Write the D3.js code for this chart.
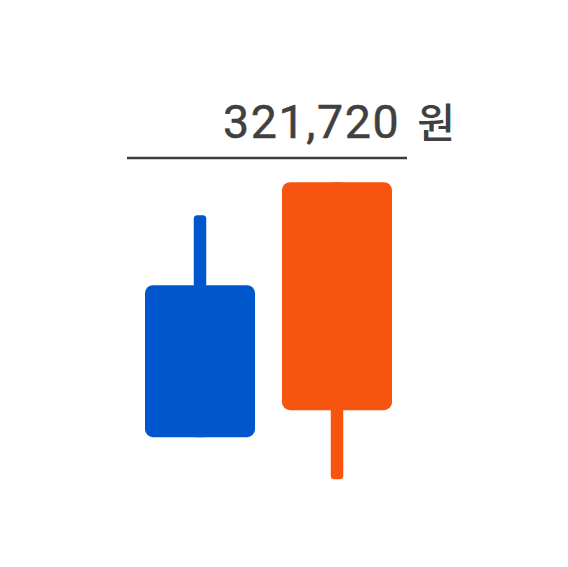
<!DOCTYPE html>
<html>
<head>
<meta charset="utf-8">
<script src="https://cdn.jsdelivr.net/npm/d3@7"></script>
<style>
html,body{margin:0;padding:0;background:#fff;}
svg{display:block;}
</style>
</head>
<body>
<svg id="chart" width="568" height="567"></svg>
<script>
// Data
const categories = ["전일", "당일"];
const opens  = [309000, 296500];
const closes = [293800, 319300];
const highs  = [316000, 319300];
const lows   = [293800, 289600];
const refPrice = 321720;
const refUnit = "원";
const colors = ["#0057cd", "#f75410"];

const svg = d3.select("#chart");
const y = d3.scaleLinear().domain([280000, 330000]).range([575.2, 75.2]);
const x = d3.scaleBand().domain(categories).range([145, 392]).paddingInner(0.197).paddingOuter(0);

const data = categories.map((c, i) => ({c, o: opens[i], cl: closes[i], h: highs[i], l: lows[i], col: colors[i]}));

const wickW = 12.5;
// wicks
svg.selectAll("rect.wick").data(data).enter().append("rect")
  .attr("class", "wick")
  .attr("x", d => x(d.c) + x.bandwidth() / 2 - wickW / 2)
  .attr("width", wickW)
  .attr("y", d => y(d.h))
  .attr("height", d => y(d.l) - y(d.h))
  .attr("rx", 3.5)
  .attr("fill", d => d.col);

// bodies
svg.selectAll("rect.body").data(data).enter().append("rect")
  .attr("class", "body")
  .attr("x", d => x(d.c))
  .attr("width", x.bandwidth())
  .attr("y", d => y(Math.max(d.o, d.cl)))
  .attr("height", d => Math.abs(y(d.o) - y(d.cl)))
  .attr("rx", 8)
  .attr("fill", d => d.col);

// reference line
svg.append("line")
  .attr("x1", 127).attr("x2", 407)
  .attr("y1", y(refPrice)).attr("y2", y(refPrice))
  .attr("stroke", "#3d3d3d")
  .attr("stroke-width", 2.5);

const baseY = y(refPrice) - 20.3;
svg.append("text")
  .attr("x", 223)
  .attr("y", baseY)
  .attr("text-anchor", "start")
  .attr("fill", "#404040")
  .attr("stroke", "#404040")
  .attr("stroke-width", 0.5)
  .attr("font-family", "Roboto, 'Noto Sans', sans-serif")
  .attr("font-size", 46.5)
  .attr("letter-spacing", 1.6)
  .text(d3.format(",")(refPrice));
svg.append("text")
  .attr("x", 455)
  .attr("y", baseY)
  .attr("text-anchor", "end")
  .attr("fill", "#404040")
  .attr("font-family", "'Noto Sans CJK KR', sans-serif")
  .attr("font-weight", 500)
  .attr("font-size", 41)
  .text(refUnit);
</script>
</body>
</html>
